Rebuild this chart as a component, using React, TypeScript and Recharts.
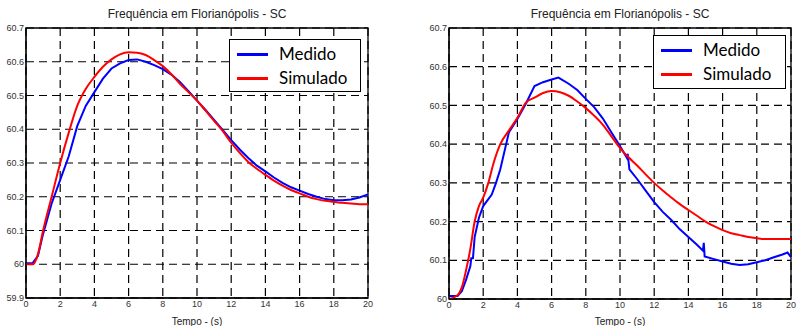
import React from 'react';
import { LineChart, Line, XAxis, YAxis, CartesianGrid, ReferenceArea } from 'recharts';

const TITLE = 'Frequência em Florianópolis - SC';
const X_LABEL = 'Tempo - (s)';

const xTicks = [0, 2, 4, 6, 8, 10, 12, 14, 16, 18, 20];
const leftYTicks = [59.9, 60, 60.1, 60.2, 60.3, 60.4, 60.5, 60.6, 60.7];
const rightYTicks = [60, 60.1, 60.2, 60.3, 60.4, 60.5, 60.6, 60.7];

// left panel
const leftTime = [0, 0.4, 0.7, 1, 1.5, 2, 2.5, 3, 3.5, 4, 4.5, 5, 5.5, 6, 6.5, 7, 7.5, 8, 8.5, 9, 9.5, 10, 10.5, 11, 11.5, 12, 12.5, 13, 13.5, 14, 14.5, 15, 15.5, 16, 16.5, 17, 17.5, 18, 18.5, 19, 19.5, 20];
const leftMedido = [60.003, 60.004, 60.025, 60.09, 60.18, 60.25, 60.32, 60.41, 60.47, 60.51, 60.55, 60.58, 60.595, 60.605, 60.607, 60.6, 60.59, 60.578, 60.562, 60.54, 60.513, 60.485, 60.457, 60.428, 60.398, 60.368, 60.34, 60.315, 60.292, 60.275, 60.257, 60.241, 60.228, 60.218, 60.208, 60.2, 60.193, 60.19, 60.19, 60.192, 60.198, 60.207];
const leftSimulado = [60.0, 60.0, 60.03, 60.1, 60.2, 60.3, 60.39, 60.47, 60.52, 60.555, 60.585, 60.607, 60.622, 60.628, 60.627, 60.62, 60.605, 60.587, 60.563, 60.535, 60.51, 60.485, 60.455, 60.425, 60.395, 60.36, 60.33, 60.303, 60.283, 60.265, 60.248, 60.233, 60.22, 60.21, 60.2, 60.193, 60.188, 60.185, 60.182, 60.18, 60.178, 60.178];

// right panel
const rightMedTime = [0, 0.5, 0.75, 1, 1.25, 1.3, 1.4, 1.5, 1.75, 2, 2.5, 2.75, 3, 3.5, 4, 4.5, 5, 5.5, 6, 6.4, 7, 7.5, 8, 8.5, 9, 9.5, 10, 10.4, 10.45, 10.55, 11, 11.5, 12, 12.5, 13, 13.5, 14, 14.5, 14.85, 14.9, 14.95, 15.5, 16, 16.5, 17, 17.5, 18, 18.5, 19, 19.5, 19.8, 20];
const rightMedido = [60.008, 60.008, 60.02, 60.05, 60.085, 60.105, 60.105, 60.16, 60.21, 60.24, 60.27, 60.3, 60.335, 60.43, 60.465, 60.505, 60.55, 60.56, 60.567, 60.572, 60.556, 60.54, 60.517, 60.495, 60.466, 60.43, 60.395, 60.365, 60.375, 60.335, 60.31, 60.28, 60.25, 60.225, 60.204, 60.18, 60.16, 60.14, 60.125, 60.145, 60.11, 60.103, 60.097, 60.091, 60.088, 60.09, 60.095, 60.1, 60.108, 60.115, 60.12, 60.108];
const rightSimTime = [0, 0.5, 0.75, 1, 1.25, 1.5, 1.75, 2, 2.3, 2.6, 3, 3.5, 4, 4.5, 5, 5.5, 6, 6.5, 7, 7.5, 8, 8.5, 9, 9.5, 10, 10.5, 11, 11.5, 12, 12.5, 13, 13.5, 14, 14.5, 15, 15.5, 16, 16.5, 17, 17.5, 18, 18.3, 19, 20];
const rightSimulado = [60.0, 60.01, 60.03, 60.075, 60.13, 60.2, 60.24, 60.262, 60.3, 60.35, 60.4, 60.435, 60.468, 60.507, 60.52, 60.532, 60.537, 60.534, 60.525, 60.51, 60.493, 60.473, 60.45, 60.42, 60.39, 60.366, 60.345, 60.322, 60.3, 60.28, 60.262, 60.245, 60.23, 60.215, 60.2, 60.188, 60.178, 60.17, 60.165, 60.16, 60.157, 60.155, 60.155, 60.155];

const toPoints = (ts: number[], vs: number[]) => ts.map((t, i) => ({ t, v: vs[i] }));

const BLUE = '#0000ff';
const RED = '#ff0000';
const tickStyle = { fontSize: 9, fill: '#333', fontFamily: '"Liberation Sans", Arial, sans-serif' };
const fmt = (v: number) => String(+v.toFixed(1));

type PanelProps = {
  left: number;
  width: number;
  yAxisWidth: number;
  rightMargin: number;
  xAxisHeight: number;
  yDomain: [number, number];
  yTicks: number[];
  medido: { t: number; v: number }[];
  simulado: { t: number; v: number }[];
  legendBox: { left: number; top: number; width: number; height: number };
};

const Panel = (p: PanelProps) => {
  const plotLeft = p.yAxisWidth;
  const plotRight = p.width - p.rightMargin;
  return (
    <div style={{ position: 'absolute', left: p.left, top: 0, width: p.width, height: 326 }}>
      <div
        style={{
          position: 'absolute',
          top: 7,
          left: plotLeft,
          width: plotRight - plotLeft,
          textAlign: 'center',
          fontFamily: '"Liberation Sans", Arial, sans-serif',
          fontSize: 12,
          color: '#222',
        }}
      >
        {TITLE}
      </div>
      <LineChart width={p.width} height={326} margin={{ top: 28, right: p.rightMargin, bottom: 0, left: 0 }}>
        <CartesianGrid stroke="#000" strokeDasharray="8 5" strokeWidth={1.2} />
        <XAxis
          dataKey="t"
          type="number"
          domain={[0, 20]}
          ticks={xTicks}
          height={p.xAxisHeight}
          tickLine={false}
          axisLine={{ stroke: '#000' }}
          tickSize={0}
          tickMargin={3}
          tick={tickStyle}
          label={{ value: X_LABEL, position: 'insideBottom', offset: 1, fontSize: 10, fill: '#222', fontFamily: '"Liberation Sans", Arial, sans-serif' }}
        />
        <YAxis
          type="number"
          domain={p.yDomain}
          ticks={p.yTicks}
          width={p.yAxisWidth}
          tickLine={false}
          axisLine={{ stroke: '#000' }}
          tickSize={0}
          tickMargin={2}
          tick={tickStyle}
          tickFormatter={fmt}
          allowDataOverflow
        />
        <ReferenceArea x1={0} x2={20} y1={p.yDomain[0]} y2={p.yDomain[1]} fill="none" stroke="#000" strokeWidth={1.3} ifOverflow="visible" />
        <Line data={p.medido} dataKey="v" type="linear" stroke={BLUE} strokeWidth={2} dot={false} isAnimationActive={false} />
        <Line data={p.simulado} dataKey="v" type="monotone" stroke={RED} strokeWidth={2} dot={false} isAnimationActive={false} />
      </LineChart>
      <div
        style={{
          position: 'absolute',
          left: p.legendBox.left,
          top: p.legendBox.top,
          width: p.legendBox.width,
          height: p.legendBox.height,
          boxSizing: 'border-box',
          border: '1.5px solid #000',
          background: '#fff',
          fontFamily: 'Lato, sans-serif',
          fontSize: 17,
          color: '#000',
        }}
      >
        {[
          { name: 'Medido', color: BLUE, y: 14 },
          { name: 'Simulado', color: RED, y: 38 },
        ].map((r) => (
          <div key={r.name}>
            <div style={{ position: 'absolute', left: 7, top: r.y - 1.5, width: 31, height: 3, background: r.color }} />
            <div style={{ position: 'absolute', left: 49, top: r.y - 11, lineHeight: '22px' }}>{r.name}</div>
          </div>
        ))}
      </div>
    </div>
  );
};

export default function App() {
  return (
    <div style={{ position: 'absolute', left: 0, top: 0, width: 798, height: 326, background: '#fff' }}>
      <Panel
        left={0}
        width={400}
        yAxisWidth={26}
        rightMargin={32}
        xAxisHeight={28}
        yDomain={[59.9, 60.7]}
        yTicks={leftYTicks}
        medido={toPoints(leftTime, leftMedido)}
        simulado={toPoints(leftTime, leftSimulado)}
        legendBox={{ left: 229, top: 39, width: 132, height: 53 }}
      />
      <Panel
        left={400}
        width={398}
        yAxisWidth={49}
        rightMargin={7}
        xAxisHeight={27}
        yDomain={[60, 60.7]}
        yTicks={rightYTicks}
        medido={toPoints(rightMedTime, rightMedido)}
        simulado={toPoints(rightSimTime, rightSimulado)}
        legendBox={{ left: 253, top: 35, width: 133, height: 54 }}
      />
    </div>
  );
}
